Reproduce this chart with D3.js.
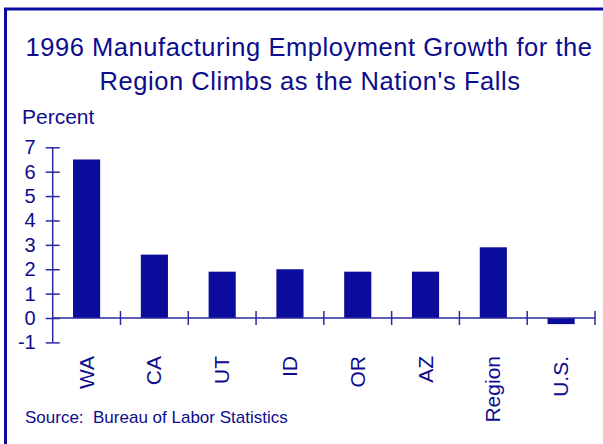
<!DOCTYPE html>
<html>
  <head>
    <meta charset="utf-8">
    <title>Manufacturing Employment Growth</title>
    <script src="https://d3js.org/d3.v7.min.js"></script>
    <style>
      body { margin: 0; background: #fff; }
      text { font-family: "Liberation Sans", Arial, sans-serif; fill: #0c0c8c; }
      .bar { fill: #0c0c9c; }
    </style>
  </head>
  <body>
    <svg width="603" height="444"></svg>

  <script>
    // data
    var categories = ["WA", "CA", "UT", "ID", "OR", "AZ", "Region", "U.S."];
    var growth = [6.5, 2.6, 1.9, 2.0, 1.9, 1.9, 2.9, -0.25];
    var yTicks = [-1, 0, 1, 2, 3, 4, 5, 6, 7];

    var data = categories.map(function(c, i) { return { cat: c, value: growth[i] }; });

    var svg = d3.select("svg"),
        axisColor = "#2a2aa0";

    // outer frame (only left and top edges fall inside the picture)
    svg.append("rect")
       .attr("x", 5.5)
       .attr("y", 9)
       .attr("width", 700)
       .attr("height", 600)
       .attr("fill", "none")
       .attr("stroke", "#0a0aa0")
       .attr("stroke-width", 3);

    // title
    svg.append("text")
       .attr("x", 309)
       .attr("y", 56)
       .attr("text-anchor", "middle")
       .attr("font-size", "25.5px")
       .attr("letter-spacing", "0.55px")
       .text("1996 Manufacturing Employment Growth for the");
    svg.append("text")
       .attr("x", 310)
       .attr("y", 90)
       .attr("text-anchor", "middle")
       .attr("font-size", "25.5px")
       .attr("letter-spacing", "0.55px")
       .text("Region Climbs as the Nation's Falls");

    svg.append("text")
       .attr("x", 22)
       .attr("y", 124)
       .attr("font-size", "21px")
       .text("Percent");

    // scales
    var x = d3.scaleBand()
              .domain(categories)
              .range([52.7, 595])
              .paddingInner(0.6)
              .paddingOuter(0.3);

    var y = d3.scaleLinear()
              .domain([-1, 7])
              .range([342.4, 147.3]);

    // bars
    svg.selectAll(".bar")
       .data(data)
       .enter().append("rect")
       .attr("class", "bar")
       .attr("x", function(d) { return x(d.cat); })
       .attr("y", function(d) { return y(Math.max(0, d.value)); })
       .attr("width", x.bandwidth())
       .attr("height", function(d) { return Math.abs(y(d.value) - y(0)); });

    // y axis, ticks cross the line
    var yAxis = svg.append("g")
       .attr("transform", "translate(52.7,0)")
       .call(d3.axisLeft(y).tickValues(yTicks).tickSize(7).tickPadding(10)
               .tickFormat(function(d) { return String(d); }));
    yAxis.select(".domain").remove();
    yAxis.selectAll(".tick line")
         .attr("x1", -7).attr("x2", 7)
         .attr("stroke", axisColor).attr("stroke-width", 1.5);
    yAxis.selectAll(".tick text")
         .attr("font-size", "20px")
         .attr("fill", "#0c0c8c");
    yAxis.append("line")
         .attr("y1", y(-1)).attr("y2", y(7))
         .attr("stroke", axisColor).attr("stroke-width", 1.5);

    // x axis at zero, ticks between categories
    var step = x.step();
    var xAxis = svg.append("g");
    xAxis.append("line")
         .attr("x1", x.range()[0]).attr("x2", x.range()[1])
         .attr("y1", y(0)).attr("y2", y(0))
         .attr("stroke", axisColor).attr("stroke-width", 1.5);
    xAxis.selectAll(".xtick")
         .data(categories)
         .enter().append("line")
         .attr("class", "xtick")
         .attr("x1", function(d) { return x.range()[0] + (categories.indexOf(d) + 1) * step; })
         .attr("x2", function(d) { return x.range()[0] + (categories.indexOf(d) + 1) * step; })
         .attr("y1", y(0) - 7).attr("y2", y(0) + 7)
         .attr("stroke", axisColor).attr("stroke-width", 1.5);

    // rotated category labels
    xAxis.selectAll(".xlabel")
         .data(categories)
         .enter().append("text")
         .attr("class", "xlabel")
         .attr("transform", function(d) {
           return "translate(" + (x(d) + x.bandwidth() / 2 + 7) + ",356) rotate(-90)";
         })
         .attr("text-anchor", "end")
         .attr("font-size", "21px")
         .text(function(d) { return d; });

    // source note
    svg.append("text")
       .attr("x", 25)
       .attr("y", 423)
       .attr("font-size", "17px")
       .style("white-space", "pre")
       .text("Source:  Bureau of Labor Statistics");
  </script>
  </body>
</html>
